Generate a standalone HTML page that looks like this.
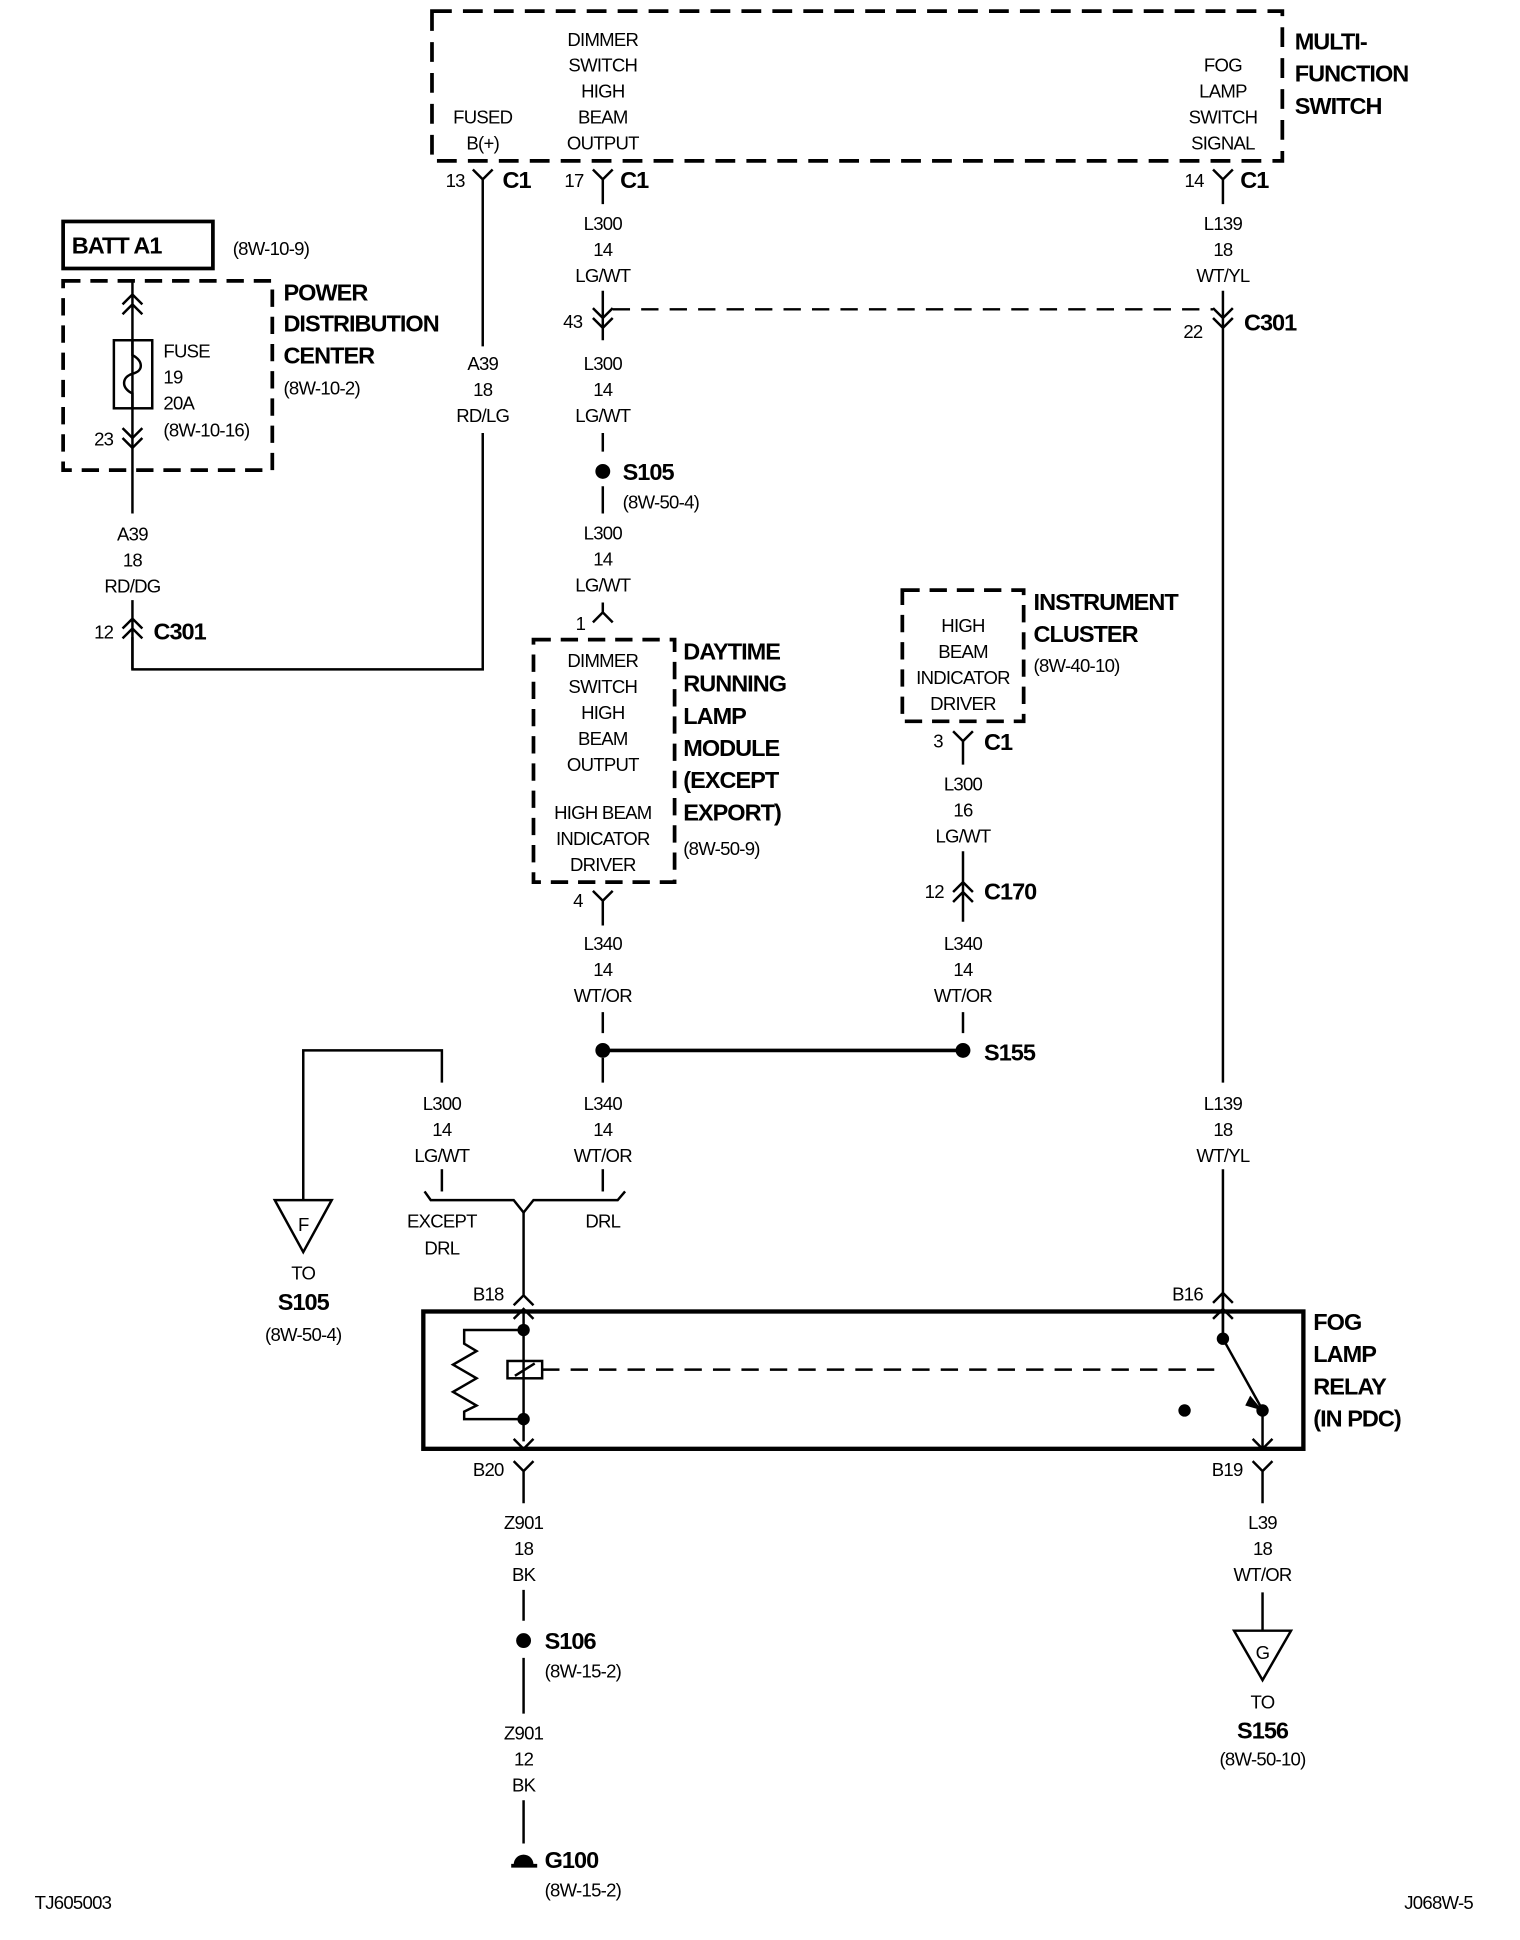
<!DOCTYPE html>
<html><head><meta charset="utf-8"><style>
html,body{margin:0;padding:0;background:#fff}
svg{display:block}
text{font-family:"Liberation Sans Narrow","Liberation Sans",sans-serif;font-size:15px;letter-spacing:-0.6px;fill:#000}
.b{font-weight:bold;font-size:19px;letter-spacing:-0.8px}
.m{text-anchor:middle}
</style></head><body>
<svg width="1520" height="1940" viewBox="0 0 1228 1568" preserveAspectRatio="none" xmlns="http://www.w3.org/2000/svg">
<g fill="none" stroke="#000" stroke-width="2">
<rect x="349" y="9" width="687" height="121" stroke-width="3" stroke-dasharray="16,9"/>
<path d="M382,137 L390,145 L398,137 M390,145 V280 M390,350 V541 H107 V515"/>
<path d="M479,137 L487,145 L495,137 M487,145 V165"/>
<path d="M980,137 L988,145 L996,137 M988,145 V165"/>
<path d="M487,235 V275 M479,249 L487,257 L495,249 M479,257 L487,265 L495,257"/>
<path d="M495,250 H980" stroke-dasharray="14,9"/>
<path d="M988,235 V875 M980,249 L988,257 L996,249 M980,257 L988,265 L996,257"/>
<path d="M988,945 V1082"/>
<path d="M487,350 V365 M487,393 V415"/>
<path d="M487,487 V495 M479,503 L487,495 L495,503"/>
<rect x="431" y="517" width="114" height="196" stroke-width="3" stroke-dasharray="14,8"/>
<path d="M479,720 L487,728 L495,720 M487,728 V748 M487,818 V835 M487,855 V875"/>
<path d="M487,945 V963"/>
<path d="M487,849 H778" stroke-width="3"/>
<rect x="729" y="477" width="98" height="106" stroke-width="3" stroke-dasharray="14,8"/>
<path d="M770,591 L778,599 L786,591 M778,599 V618 M778,688 V745 M770,721 L778,713 L786,721 M770,729 L778,721 L786,729 M778,818 V835"/>
<path d="M357,875 V849 H245 V970"/>
<path d="M357,945 V963"/>
<path d="M222,970 L268,970 L245,1012 Z"/>
<path d="M343,963 L348,970 H415 L423,980 L431,970 H499 L505,963"/>
<path d="M423,980 V1047 M415,1055 L423,1047 L431,1055"/>
<rect x="342" y="1060" width="711" height="111" stroke-width="3.5"/>
<path d="M415,1066 L423,1058 L431,1066 M423,1058 V1165 M415,1163 L423,1171 L431,1163"/>
<path d="M423,1075 H375 V1086 L385,1092 L366,1103 L385,1114 L366,1125 L385,1136 L375,1141 V1147 H423"/>
<rect x="410" y="1100" width="28" height="14"/>
<path d="M416,1112 L432,1102"/>
<path d="M438,1107 H985" stroke-dasharray="14,9"/>
<path d="M988,1045 V1082 M980,1053 L988,1045 L996,1053 M980,1066 L988,1058 L996,1066"/>
<path d="M988,1082 L1018,1136"/>
<path d="M1020,1140 V1171 M1012,1163 L1020,1171 L1028,1163"/>
<path d="M1012,1181 L1020,1189 L1028,1181 M1020,1189 V1215 M1020,1287 V1318"/>
<path d="M997,1318 L1043,1318 L1020,1358 Z"/>
<path d="M415,1181 L423,1189 L431,1181 M423,1189 V1215 M423,1285 V1310 M423,1340 V1385 M423,1455 V1490"/>
<path d="M413,1508 H434" stroke-width="3"/>
<rect x="51" y="179" width="121" height="38" stroke-width="3"/>
<rect x="51" y="227" width="169" height="153" stroke-width="3" stroke-dasharray="14,8"/>
<path d="M107,227 V415 M99,246 L107,238 L115,246 M99,254 L107,246 L115,254"/>
<path d="M99,346 L107,354 L115,346 M99,354 L107,362 L115,354"/>
<rect x="92" y="275" width="31" height="55"/>
<path d="M107,275 V287 C116,292 116,300 107,302 C98,305 98,314 107,318 V330"/>
<path d="M107,485 V541 M99,508 L107,500 L115,508 M99,516 L107,508 L115,516"/>
</g>
<g fill="#000">
<circle cx="487" cy="381" r="6"/>
<circle cx="487" cy="849" r="6"/>
<circle cx="778" cy="849" r="6"/>
<circle cx="423" cy="1075" r="5"/>
<circle cx="423" cy="1147" r="5"/>
<circle cx="988" cy="1082" r="5"/>
<circle cx="1020" cy="1140" r="5"/>
<circle cx="957" cy="1140" r="5"/>
<polygon points="1010,1128 1020,1140 1006,1136"/>
<circle cx="423" cy="1326" r="6"/>
<path d="M415,1507 A8,8 0 0 1 431,1507 Z"/>
</g>
<text class="m" x="487" y="37">DIMMER</text><text class="m" x="487" y="58">SWITCH</text><text class="m" x="487" y="79">HIGH</text><text class="m" x="487" y="100">BEAM</text><text class="m" x="487" y="121">OUTPUT</text>
<text class="m" x="390" y="100">FUSED</text><text class="m" x="390" y="121">B(+)</text>
<text class="m" x="988" y="58">FOG</text><text class="m" x="988" y="79">LAMP</text><text class="m" x="988" y="100">SWITCH</text><text class="m" x="988" y="121">SIGNAL</text>
<text class="b" x="1046" y="40">MULTI-</text><text class="b" x="1046" y="66">FUNCTION</text><text class="b" x="1046" y="92">SWITCH</text>
<text x="360" y="151">13</text><text class="b" x="406" y="152">C1</text>
<text x="456" y="151">17</text><text class="b" x="501" y="152">C1</text>
<text x="957" y="151">14</text><text class="b" x="1002" y="152">C1</text>
<text class="m" x="487" y="186">L300</text><text class="m" x="487" y="207">14</text><text class="m" x="487" y="228">LG/WT</text>
<text class="m" x="988" y="186">L139</text><text class="m" x="988" y="207">18</text><text class="m" x="988" y="228">WT/YL</text>
<text x="455" y="265">43</text>
<text x="956" y="273">22</text><text class="b" x="1005" y="267">C301</text>
<text class="m" x="487" y="299">L300</text><text class="m" x="487" y="320">14</text><text class="m" x="487" y="341">LG/WT</text>
<text class="m" x="390" y="299">A39</text><text class="m" x="390" y="320">18</text><text class="m" x="390" y="341">RD/LG</text>
<text class="b" x="503" y="388">S105</text><text x="503" y="411">(8W-50-4)</text>
<text class="m" x="487" y="436">L300</text><text class="m" x="487" y="457">14</text><text class="m" x="487" y="478">LG/WT</text>
<text x="465" y="509">1</text>
<text class="m" x="487" y="539">DIMMER</text><text class="m" x="487" y="560">SWITCH</text><text class="m" x="487" y="581">HIGH</text><text class="m" x="487" y="602">BEAM</text><text class="m" x="487" y="623">OUTPUT</text>
<text class="m" x="487" y="662">HIGH BEAM</text><text class="m" x="487" y="683">INDICATOR</text><text class="m" x="487" y="704">DRIVER</text>
<text class="b" x="552" y="533">DAYTIME</text><text class="b" x="552" y="559">RUNNING</text><text class="b" x="552" y="585">LAMP</text><text class="b" x="552" y="611">MODULE</text><text class="b" x="552" y="637">(EXCEPT</text><text class="b" x="552" y="663">EXPORT)</text>
<text x="552" y="691">(8W-50-9)</text>
<text x="463" y="733">4</text>
<text class="m" x="487" y="768">L340</text><text class="m" x="487" y="789">14</text><text class="m" x="487" y="810">WT/OR</text>
<text class="m" x="778" y="511">HIGH</text><text class="m" x="778" y="532">BEAM</text><text class="m" x="778" y="553">INDICATOR</text><text class="m" x="778" y="574">DRIVER</text>
<text class="b" x="835" y="493">INSTRUMENT</text><text class="b" x="835" y="519">CLUSTER</text><text x="835" y="543">(8W-40-10)</text>
<text x="754" y="604">3</text><text class="b" x="795" y="606">C1</text>
<text class="m" x="778" y="639">L300</text><text class="m" x="778" y="660">16</text><text class="m" x="778" y="681">LG/WT</text>
<text x="747" y="726">12</text><text class="b" x="795" y="727">C170</text>
<text class="m" x="778" y="768">L340</text><text class="m" x="778" y="789">14</text><text class="m" x="778" y="810">WT/OR</text>
<text class="b" x="795" y="857">S155</text>
<text class="m" x="357" y="897">L300</text><text class="m" x="357" y="918">14</text><text class="m" x="357" y="939">LG/WT</text>
<text class="m" x="487" y="897">L340</text><text class="m" x="487" y="918">14</text><text class="m" x="487" y="939">WT/OR</text>
<text class="m" x="988" y="897">L139</text><text class="m" x="988" y="918">18</text><text class="m" x="988" y="939">WT/YL</text>
<text class="m" x="357" y="992">EXCEPT</text><text class="m" x="357" y="1014">DRL</text><text class="m" x="487" y="992">DRL</text>
<text class="m" x="245" y="995">F</text>
<text class="m" x="245" y="1034">TO</text><text class="b m" x="245" y="1059">S105</text><text class="m" x="245" y="1084">(8W-50-4)</text>
<text x="382" y="1051">B18</text><text x="947" y="1051">B16</text>
<text x="382" y="1193">B20</text><text x="979" y="1193">B19</text>
<text class="b" x="1061" y="1075">FOG</text><text class="b" x="1061" y="1101">LAMP</text><text class="b" x="1061" y="1127">RELAY</text><text class="b" x="1061" y="1153">(IN PDC)</text>
<text class="m" x="423" y="1236">Z901</text><text class="m" x="423" y="1257">18</text><text class="m" x="423" y="1278">BK</text>
<text class="b" x="440" y="1333">S106</text><text x="440" y="1356">(8W-15-2)</text>
<text class="m" x="423" y="1406">Z901</text><text class="m" x="423" y="1427">12</text><text class="m" x="423" y="1448">BK</text>
<text class="b" x="440" y="1510">G100</text><text x="440" y="1533">(8W-15-2)</text>
<text class="m" x="1020" y="1236">L39</text><text class="m" x="1020" y="1257">18</text><text class="m" x="1020" y="1278">WT/OR</text>
<text class="m" x="1020" y="1341">G</text>
<text class="m" x="1020" y="1381">TO</text><text class="b m" x="1020" y="1405">S156</text><text class="m" x="1020" y="1427">(8W-50-10)</text>
<text x="28" y="1543">TJ605003</text><text x="1190" y="1543" style="text-anchor:end">J068W-5</text>
<text class="b" x="58" y="205">BATT A1</text><text x="188" y="206">(8W-10-9)</text>
<text class="b" x="229" y="243">POWER</text><text class="b" x="229" y="268">DISTRIBUTION</text><text class="b" x="229" y="294">CENTER</text><text x="229" y="319">(8W-10-2)</text>
<text x="132" y="289">FUSE</text><text x="132" y="310">19</text><text x="132" y="331">20A</text><text x="132" y="353">(8W-10-16)</text>
<text x="76" y="360">23</text>
<text class="m" x="107" y="437">A39</text><text class="m" x="107" y="458">18</text><text class="m" x="107" y="479">RD/DG</text>
<text x="76" y="516">12</text><text class="b" x="124" y="517">C301</text>
</svg>
</body></html>
